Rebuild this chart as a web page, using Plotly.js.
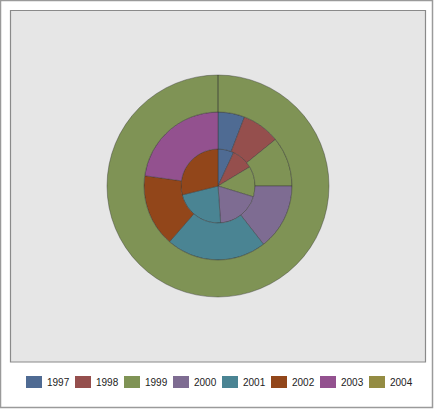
<!DOCTYPE html>
<html>
<head>
<meta charset="utf-8">
<script src="https://cdn.plot.ly/plotly-3.0.1.min.js"></script>
<style>
html,body{margin:0;padding:0;background:#fff;}
#chart{width:435px;height:410px;}
/* let the last legend label show in full */
#chart .legend .scrollbox{clip-path:none !important;}
#chart .legend path.legendpie{transform:translate(20px,0px) scale(1.333,1) !important; stroke-width:0 !important;}
#chart .legend text.legendtext{transform:translate(-7px,0px);}
</style>
</head>
<body>
<div id="chart"></div>
<script>
// Category labels (years)
var years = ['1997', '1998', '1999', '2000', '2001', '2002', '2003', '2004'];
var colors = ['#4f6b93', '#954f4d', '#7f9355', '#7e6c92', '#4a8493', '#92461a', '#93518f', '#948c43'];

// Inner pie
var innerLabels = ['1997', '1998', '1999', '2000', '2001', '2002'];
var innerValues = [25, 34, 48, 69, 80, 104];

// Middle ring
var middleLabels = ['1997', '1998', '1999', '2000', '2001', '2002', '2003'];
var middleValues = [21, 30, 39, 52, 79, 57, 82];

// Outer ring
var outerLabels = ['1999', '2004'];
var outerValues = [360, 0];

var colorMap = {};
years.forEach(function (y, i) { colorMap[y] = colors[i]; });
function cols(labels) { return labels.map(function (l) { return colorMap[l]; }); }

var W = 435, H = 410;
var cx = 218, cy = 186;
var R = 111;
function dom(r) {
  return {
    x: [(cx - r) / W, (cx + r) / W],
    y: [(H - (cy + r)) / H, (H - (cy - r)) / H]
  };
}
var sliceLine = {color: 'rgba(50,50,50,0.4)', width: 1};

var common = {
  type: 'pie', sort: false, direction: 'clockwise', rotation: 0,
  textinfo: 'none', hoverinfo: 'label+value'
};

var traces = [
  Object.assign({}, common, {
    labels: innerLabels, values: innerValues, hole: 0,
    domain: dom(R / 3),
    marker: {colors: cols(innerLabels), line: sliceLine}
  }),
  Object.assign({}, common, {
    labels: middleLabels, values: middleValues, hole: 0.5,
    domain: dom(2 * R / 3),
    marker: {colors: cols(middleLabels), line: sliceLine}
  }),
  Object.assign({}, common, {
    labels: outerLabels, values: outerValues, hole: 2 / 3,
    domain: dom(R),
    marker: {colors: cols(outerLabels), line: sliceLine}
  })
];

var layout = {
  width: W, height: H,
  margin: {l: 0, r: 0, t: 0, b: 0},
  paper_bgcolor: '#ffffff',
  showlegend: true,
  legend: {
    orientation: 'h', x: 14 / W, xanchor: 'left', y: 28 / H, yanchor: 'middle',
    bgcolor: 'rgba(0,0,0,0)',
    font: {family: 'Liberation Sans, Arial, sans-serif', size: 10, color: '#222'},
    traceorder: 'normal', itemclick: false, itemdoubleclick: false,
    entrywidth: 4, entrywidthmode: 'pixels', itemwidth: 30
  },
  shapes: [
    {type: 'rect', xref: 'paper', yref: 'paper', layer: 'below',
     x0: 0.5 / W, x1: 432.5 / W, y0: (H - 407.5) / H, y1: (H - 0.5) / H,
     line: {color: '#9a9a9a', width: 1.5}, fillcolor: '#ffffff'},
    {type: 'rect', xref: 'paper', yref: 'paper', layer: 'below',
     x0: 10.5 / W, x1: 425.5 / W, y0: (H - 362) / H, y1: (H - 10.5) / H,
     line: {color: '#8a8a8a', width: 1.2}, fillcolor: '#e6e6e6'}
  ]
};

Plotly.newPlot('chart', traces, layout, {displayModeBar: false, staticPlot: true});
</script>
</body>
</html>
